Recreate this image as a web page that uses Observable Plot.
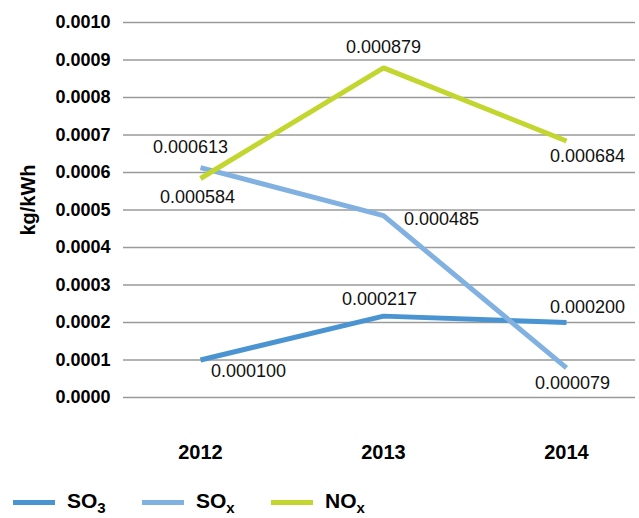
<!DOCTYPE html>
<html>
<head>
<meta charset="utf-8">
<script src="https://cdn.jsdelivr.net/npm/d3@7"></script>
<script src="https://cdn.jsdelivr.net/npm/@observablehq/plot@0.6"></script>
<style>
  html, body { margin: 0; padding: 0; background: #fff; }
  body { width: 639px; height: 518px; overflow: hidden; font-family: "Liberation Sans", Arial, sans-serif; }
  #legend { height: 32px; padding-top: 6px; display: flex; align-items: center; padding-left: 13px; }
  .item { display: flex; align-items: center; width: 129px; }
  .sw { width: 42px; height: 5px; margin-right: 12px; }
  .lab { font-size: 21px; font-weight: bold; color: #000; }
  .lab sub { font-size: 15px; position: relative; top: 1px; vertical-align: -4px; }
</style>
</head>
<body>
<div id="chart"></div>
<div id="legend"></div>
<script>
const years = ["2012", "2013", "2014"];
const so3 = [0.000100, 0.000217, 0.000200];
const sox = [0.000613, 0.000485, 0.000079];
const nox = [0.000584, 0.000879, 0.000684];
const seriesKeys = ["SO3", "SOx", "NOx"];
const seriesBase = ["SO", "SO", "NO"];
const seriesSub = ["3", "x", "x"];
const colors = ["#4a94d2", "#80b1e0", "#c2d62f"];
const yTicks = [0, 0.0001, 0.0002, 0.0003, 0.0004, 0.0005, 0.0006, 0.0007, 0.0008, 0.0009, 0.0010];

// label placement (offset in px from the point), layout only
const labelOffsets = {
  SO3: [[48, 11], [-4, -17], [21, -15]],
  SOx: [[-10, -20], [58, 4], [6, 15]],
  NOx: [[-3, 19], [0, -21], [21, 15]]
};

const values = {SO3: so3, SOx: sox, NOx: nox};
const rows = [];
seriesKeys.forEach(k => years.forEach((yr, i) => rows.push({series: k, year: yr, value: values[k][i], idx: i})));

const labelMarks = rows.map(r => Plot.text([r], {
  x: "year", y: "value",
  text: d => d3.format(".6f")(d.value),
  dx: labelOffsets[r.series][r.idx][0],
  dy: labelOffsets[r.series][r.idx][1],
  fontSize: 18, fill: "#111",
  fontFamily: "Liberation Sans, Arial, sans-serif"
}));

const chart = Plot.plot({
  width: 639,
  height: 480,
  marginTop: 22,
  marginBottom: 83,
  marginLeft: 123,
  marginRight: 4,
  style: {fontFamily: "Liberation Sans, Arial, sans-serif", color: "#000", background: "#fff"},
  x: {type: "point", domain: years, range: [199, 566], padding: 0},
  y: {domain: [0, 0.001]},
  color: {domain: seriesKeys, range: colors},
  marks: [
    Plot.gridY(yTicks, {stroke: "#9a9a9a", strokeOpacity: 1, strokeWidth: 1.3}),
    Plot.axisY(yTicks, {tickFormat: d3.format(".4f"), tickSize: 0, tickPadding: 13, fontSize: 18, fontWeight: "bold", label: null}),
    Plot.axisX({tickSize: 0, tickPadding: 47, fontSize: 20, fontWeight: "bold", label: null}),
    Plot.text(["kg/kWh"], {frameAnchor: "left", textAnchor: "middle", rotate: -90, dx: -95, dy: -10, fontSize: 20, fontWeight: "bold", fill: "#000"}),
    Plot.line(rows, {x: "year", y: "value", z: "series", stroke: "series", strokeWidth: 5, strokeLinejoin: "miter", strokeLinecap: "butt"}),
    ...labelMarks
  ]
});
document.getElementById("chart").appendChild(chart);

const legend = document.getElementById("legend");
seriesKeys.forEach((k, i) => {
  const it = document.createElement("div");
  it.className = "item";
  it.innerHTML = `<div class="sw" style="background:${colors[i]}"></div><span class="lab">${seriesBase[i]}<sub>${seriesSub[i]}</sub></span>`;
  legend.appendChild(it);
});
</script>
</body>
</html>
